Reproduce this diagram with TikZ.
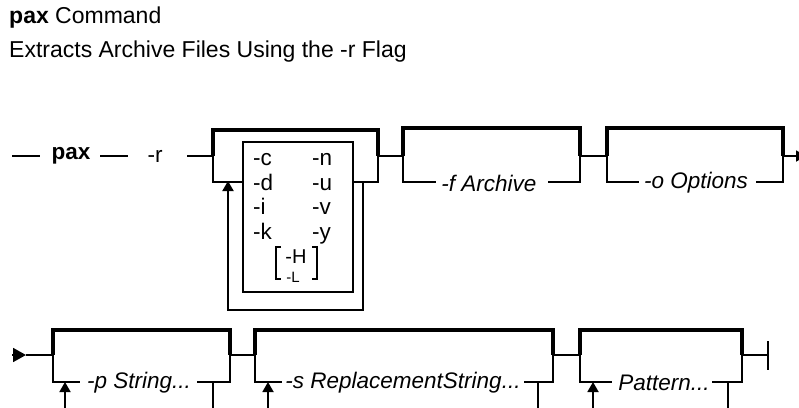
\documentclass[tikz,border=0pt]{standalone}
\usepackage{fontspec}
\setmainfont{Liberation Sans}
\usetikzlibrary{arrows.meta}
\begin{document}
\begin{tikzpicture}[x=1pt,y=-1pt,line join=miter,>={Triangle[length=10pt,width=11pt]},
  rail/.style={line width=1.8pt},
  main/.style={line width=3.8pt},
  txt/.style={inner sep=0pt,font=\fontsize{22.5}{25}\selectfont},
  var/.style={inner sep=0pt,font=\fontsize{22.5}{25}\selectfont\itshape},
  flag/.style={txt,anchor=base west}]
\useasboundingbox (0,0) rectangle (799,407);
\clip (0,0) rectangle (799,407);
% headings
\node[txt,font=\fontsize{23}{26}\selectfont,anchor=base west] (ttl) at (9,23) {\textbf{pax} Command};
\node[txt,font=\fontsize{23}{26}\selectfont,anchor=base west] (sub) at (9,57) {Extracts Archive Files Using the -r Flag};
% first row
\coordinate (a0) at (12,156);
\coordinate (a1) at (40,156);
\coordinate (a2) at (100,156);
\coordinate (a3) at (128,156);
\coordinate (a4) at (187,156);
\node[txt,font=\fontsize{22.5}{25}\selectfont\bfseries] (pax) at (71,156) {pax};
\node[txt] (r) at (155,156) {-r};
\draw[rail] (a0) -- (a1);
\draw[rail] (a2) -- (a3);
% box with the flags
\coordinate (b1w) at (213,156);
\coordinate (b1e) at (378,156);
\draw[rail] (a4) -- (b1w);
\draw[main] (b1w) -- (213,130) -- (378,130) -- (b1e);
\draw[rail] (b1w) -- (213,182) -- (243,182);
\draw[rail] (353,182) -- (378,182) -- (b1e);
\draw[line width=2.6pt] (243,142) rectangle (353,292);
\draw[line width=2pt,->] (363,182) -- (363,310) -- (228,310) -- (228,181);
\node[flag] (fc) at (253,165) {-c};
\node[flag] (fd) at (253,190) {-d};
\node[flag] (fi) at (253,214) {-i};
\node[flag] (fk) at (253,239) {-k};
\node[flag] (fn) at (312,165) {-n};
\node[flag] (fu) at (312,190) {-u};
\node[flag] (fv) at (312,214) {-v};
\node[flag] (fy) at (312,239) {-y};
\draw[line width=1.8pt] (281,247) -- (276,247) -- (276,279) -- (281,279);
\draw[line width=1.8pt] (312,247) -- (317,247) -- (317,279) -- (312,279);
\node[txt,font=\fontsize{20}{22}\selectfont,anchor=base] (fh) at (296,263) {-H};
\node[txt,font=\fontsize{15}{17}\selectfont,anchor=base] (fl) at (293,282) {-L};
% archive
\coordinate (b2w) at (403,156);
\coordinate (b2e) at (580,156);
\draw[rail] (b1e) -- (b2w);
\draw[main] (b2w) -- (403,128) -- (580,128) -- (b2e);
\node[var] (arch) at (489,183) {-f Archive};
\draw[rail] (b2w) -- (403,182) -- (436,182);
\draw[rail] (548,182) -- (580,182) -- (b2e);
% options
\coordinate (b3w) at (607,156);
\coordinate (b3e) at (783,156);
\draw[rail] (b2e) -- (b3w);
\draw[main] (b3w) -- (607,128) -- (783,128) -- (b3e);
\node[var] (opts) at (696,183) {-o Options};
\draw[rail] (b3w) -- (607,182) -- (639,182);
\draw[rail] (756,182) -- (783,182) -- (b3e);
\draw[rail,->] (b3e) -- (806,156);
% second row
\coordinate (c0) at (12,355);
\coordinate (c1) at (26,355);
\draw[rail,-{Triangle[length=13pt,width=14pt]}] (c0) -- (c1);
% string
\coordinate (d1w) at (53,355);
\coordinate (d1e) at (230,355);
\draw[rail] (c1) -- (d1w);
\draw[main] (d1w) -- (53,330) -- (230,330) -- (d1e);
\node[var] (str) at (139,383) {-p String...};
\draw[rail] (d1w) -- (53,382) -- (80,382);
\draw[rail] (197,382) -- (230,382) -- (d1e);
\draw[rail,->] (65,412) -- (65,382);
\draw[rail] (213,382) -- (213,412);
% replacement
\coordinate (d2w) at (255,355);
\coordinate (d2e) at (553,355);
\draw[rail] (d1e) -- (d2w);
\draw[main] (d2w) -- (255,330) -- (553,330) -- (d2e);
\node[var] (repl) at (403,383) {-s ReplacementString...};
\draw[rail] (d2w) -- (255,382) -- (282,382);
\draw[rail] (524,382) -- (553,382) -- (d2e);
\draw[rail,->] (268,412) -- (268,382);
\draw[rail] (538,382) -- (538,412);
% pattern
\coordinate (d3w) at (580,355);
\coordinate (d3e) at (742,355);
\draw[rail] (d2e) -- (d3w);
\draw[main] (d3w) -- (580,330) -- (742,330) -- (d3e);
\node[var] (pat) at (664,383) {Pattern...};
\draw[rail] (d3w) -- (580,382) -- (612,382);
\draw[rail] (712,382) -- (742,382) -- (d3e);
\draw[rail,->] (593,412) -- (593,382);
\draw[rail] (728,382) -- (728,412);
\coordinate (c2) at (768,355);
\draw[rail] (d3e) -- (c2);
\draw[rail] (768,341) -- (768,370);
\end{tikzpicture}
\end{document}
